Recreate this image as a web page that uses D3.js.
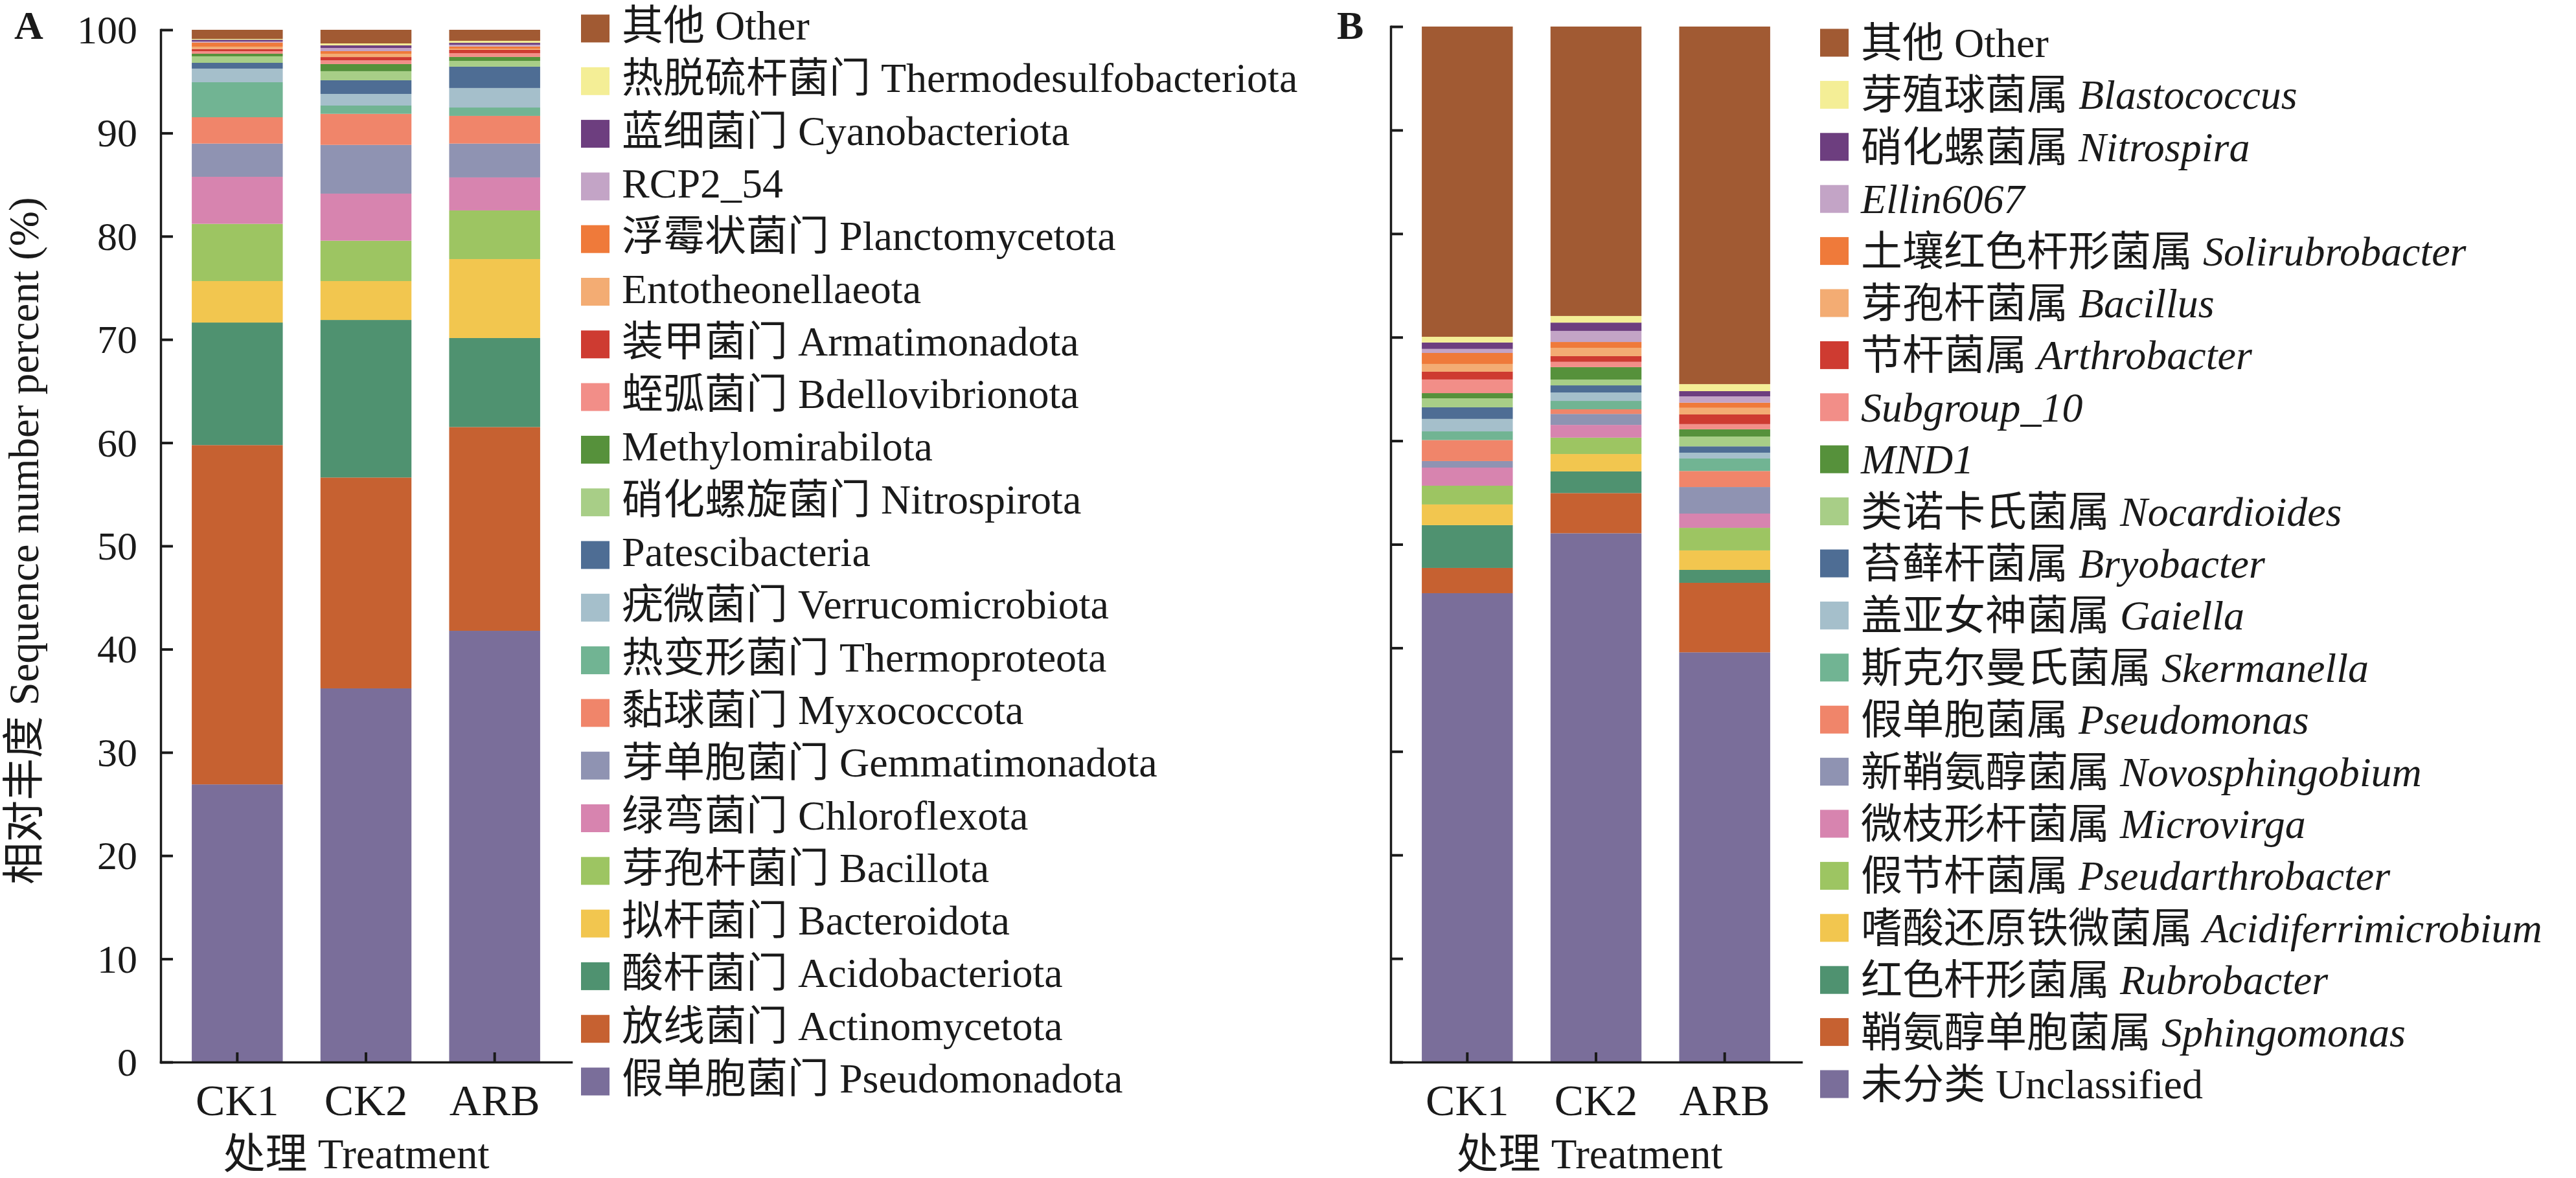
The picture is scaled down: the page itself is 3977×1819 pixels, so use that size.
<!DOCTYPE html>
<html><head><meta charset="utf-8">
<script src="https://cdn.jsdelivr.net/npm/d3@7"></script>
<style>
body{margin:0;background:#fff}
svg{display:block}
text{font-family:'Liberation Serif','Noto Sans CJK SC',serif;fill:#1a1a1a}
</style>
</head><body>
<svg id="chart" width="3977" height="1819"></svg>
<script>
// ---------- data ----------
const categories = ["CK1", "CK2", "ARB"];
const yTicks = [0, 10, 20, 30, 40, 50, 60, 70, 80, 90, 100];

// Panel A: phyla (legend order, top -> bottom)
const phylumCN = ["其他", "热脱硫杆菌门", "蓝细菌门", "", "浮霉状菌门", "", "装甲菌门", "蛭弧菌门", "", "硝化螺旋菌门", "", "疣微菌门", "热变形菌门", "黏球菌门", "芽单胞菌门", "绿弯菌门", "芽孢杆菌门", "拟杆菌门", "酸杆菌门", "放线菌门", "假单胞菌门"];
const phylumEN = ["Other", "Thermodesulfobacteriota", "Cyanobacteriota", "RCP2_54", "Planctomycetota", "Entotheonellaeota", "Armatimonadota", "Bdellovibrionota", "Methylomirabilota", "Nitrospirota", "Patescibacteria", "Verrucomicrobiota", "Thermoproteota", "Myxococcota", "Gemmatimonadota", "Chloroflexota", "Bacillota", "Bacteroidota", "Acidobacteriota", "Actinomycetota", "Pseudomonadota"];
const phylumCK1 = [0.88, 0.08, 0.17, 0.10, 0.40, 0.23, 0.21, 0.25, 0.25, 0.63, 0.56, 1.32, 3.39, 2.55, 3.22, 4.56, 5.54, 4.02, 11.87, 32.87, 26.90];
const phylumCK2 = [1.32, 0.19, 0.25, 0.31, 0.25, 0.32, 0.31, 0.37, 0.69, 0.88, 1.32, 1.13, 0.80, 3.01, 4.72, 4.56, 3.91, 3.77, 15.26, 20.43, 36.20];
const phylumARB = [1.07, 0.19, 0.19, 0.16, 0.21, 0.12, 0.32, 0.37, 0.38, 0.56, 2.07, 1.89, 0.81, 2.68, 3.28, 3.20, 4.71, 7.65, 8.62, 19.74, 41.78];

// Panel B: genera (legend order, top -> bottom)
const genusCN = ["其他", "芽殖球菌属", "硝化螺菌属", "", "土壤红色杆形菌属", "芽孢杆菌属", "节杆菌属", "", "", "类诺卡氏菌属", "苔藓杆菌属", "盖亚女神菌属", "斯克尔曼氏菌属", "假单胞菌属", "新鞘氨醇菌属", "微枝形杆菌属", "假节杆菌属", "嗜酸还原铁微菌属", "红色杆形菌属", "鞘氨醇单胞菌属", "未分类"];
const genusEN = ["Other", "Blastococcus", "Nitrospira", "Ellin6067", "Solirubrobacter", "Bacillus", "Arthrobacter", "Subgroup_10", "MND1", "Nocardioides", "Bryobacter", "Gaiella", "Skermanella", "Pseudomonas", "Novosphingobium", "Microvirga", "Pseudarthrobacter", "Acidiferrimicrobium", "Rubrobacter", "Sphingomonas", "Unclassified"];
const genusCK1 = [29.96, 0.55, 0.62, 0.39, 1.06, 0.75, 0.75, 1.32, 0.50, 0.87, 1.12, 1.20, 0.84, 2.03, 0.63, 1.75, 1.81, 2.00, 4.13, 2.44, 45.28];
const genusCK2 = [27.95, 0.64, 0.80, 1.07, 0.56, 0.81, 0.55, 0.51, 1.20, 0.56, 0.69, 0.81, 0.81, 0.45, 1.06, 1.23, 1.58, 1.68, 2.09, 3.88, 51.07];
const genusARB = [34.53, 0.68, 0.50, 0.61, 0.50, 0.64, 0.93, 0.50, 0.70, 0.95, 0.61, 0.56, 1.21, 1.55, 2.56, 1.38, 2.18, 1.88, 1.25, 6.71, 39.57];

const colors = ["#A15A33", "#F4EE96", "#6D3E7F", "#C3A4C6", "#EF7A3A", "#F3AC73", "#CE3B31", "#F28E88", "#56913B", "#A8CE87", "#4E6D94", "#A5BFCB", "#71B493", "#F0856A", "#8F93B2", "#D784AF", "#9DC562", "#F2C64F", "#4F9270", "#C66131", "#7A6E9A"];

// ---------- drawing ----------
const svg = d3.select("#chart");
const INK = "#1a1a1a";
const Y0 = 1640;

function panel(o) {
  const g = svg.append("g");
  const x = d3.scaleBand().domain(categories).range([o.x0, o.x1]).paddingInner(0.293).paddingOuter(0.242);
  const y = d3.scaleLinear().domain([0, 100]).range([Y0, o.yTop]);
  const n = o.cn.length;
  const rows = categories.map((c, i) => {
    const r = {cat: c};
    for (let k = 0; k < n; k++) r["k" + k] = o.values[i][k];
    return r;
  });
  const keys = d3.range(n).reverse().map(k => "k" + k);
  const series = d3.stack().keys(keys)(rows);
  g.append("g").selectAll("g").data(series).join("g")
    .attr("fill", d => colors[+d.key.slice(1)])
    .selectAll("rect").data(d => d).join("rect")
    .attr("x", d => x(d.data.cat)).attr("width", x.bandwidth())
    .attr("y", d => y(d[1])).attr("height", d => y(d[0]) - y(d[1]));

  // y axis
  const ya = d3.axisLeft(y).tickValues(yTicks).tickSize(-19).tickSizeOuter(0).tickPadding(36);
  if (!o.yLabels) ya.tickFormat("");
  const yg = g.append("g").attr("transform", `translate(${o.x0},0)`).call(ya);
  yg.attr("font-family", null).attr("font-size", null);
  yg.selectAll("text").attr("font-size", 62).attr("fill", INK).attr("dy", "0.33em");

  // x axis
  const xa = d3.axisBottom(x).tickSize(-15).tickSizeOuter(0);
  const xg = g.append("g").attr("transform", `translate(0,${Y0})`).call(xa);
  xg.attr("font-family", null).attr("font-size", null);
  xg.selectAll("text").attr("font-size", 68).attr("fill", INK).attr("y", 82).attr("dy", 0);

  [yg, xg].forEach(a => {
    a.select(".domain").attr("stroke", INK).attr("stroke-width", 3.5).attr("stroke-linecap", "square");
    a.selectAll(".tick line").attr("stroke", INK).attr("stroke-width", 4);
  });

  // x title
  g.append("text").attr("x", o.titleX).attr("y", 1804).attr("text-anchor", "middle")
    .attr("font-size", 65).text("处理 Treatment");

  // panel letter
  g.append("text").attr("x", o.letterX).attr("y", 60).attr("font-size", 62)
    .attr("font-weight", "bold").text(o.letter);

  // legend
  const lg = g.append("g");
  for (let i = 0; i < n; i++) {
    const cy = o.legY0 + i * o.legStep;
    lg.append("rect").attr("x", o.legX).attr("y", cy - 21.5).attr("width", 44).attr("height", 43)
      .attr("fill", colors[i]);
    const t = lg.append("text").attr("x", o.legX + 63).attr("y", cy + o.legBase).attr("font-size", 64);
    if (o.cn[i]) t.append("tspan").text(o.cn[i] + " ");
    const it = o.italic && o.en[i] !== "Other" && o.en[i] !== "Unclassified";
    t.append("tspan").attr("font-style", it ? "italic" : "normal").text(o.en[i]);
  }
}

panel({
  x0: 248, x1: 882, yTop: 46, yLabels: true, values: [phylumCK1, phylumCK2, phylumARB],
  cn: phylumCN, en: phylumEN, italic: false, titleX: 550, letter: "A", letterX: 22,
  legX: 897, legY0: 44, legStep: 81.3, legBase: 17
});
panel({
  x0: 2147, x1: 2781, yTop: 41, yLabels: false, values: [genusCK1, genusCK2, genusARB],
  cn: genusCN, en: genusEN, italic: true, titleX: 2454, letter: "B", letterX: 2064,
  legX: 2810, legY0: 66, legStep: 80.4, legBase: 22
});

// y-axis title (panel A)
svg.append("text").attr("transform", "translate(59,835) rotate(-90)")
  .attr("text-anchor", "middle").attr("font-size", 65)
  .text("相对丰度 Sequence number percent (%)");
</script>
</body></html>
